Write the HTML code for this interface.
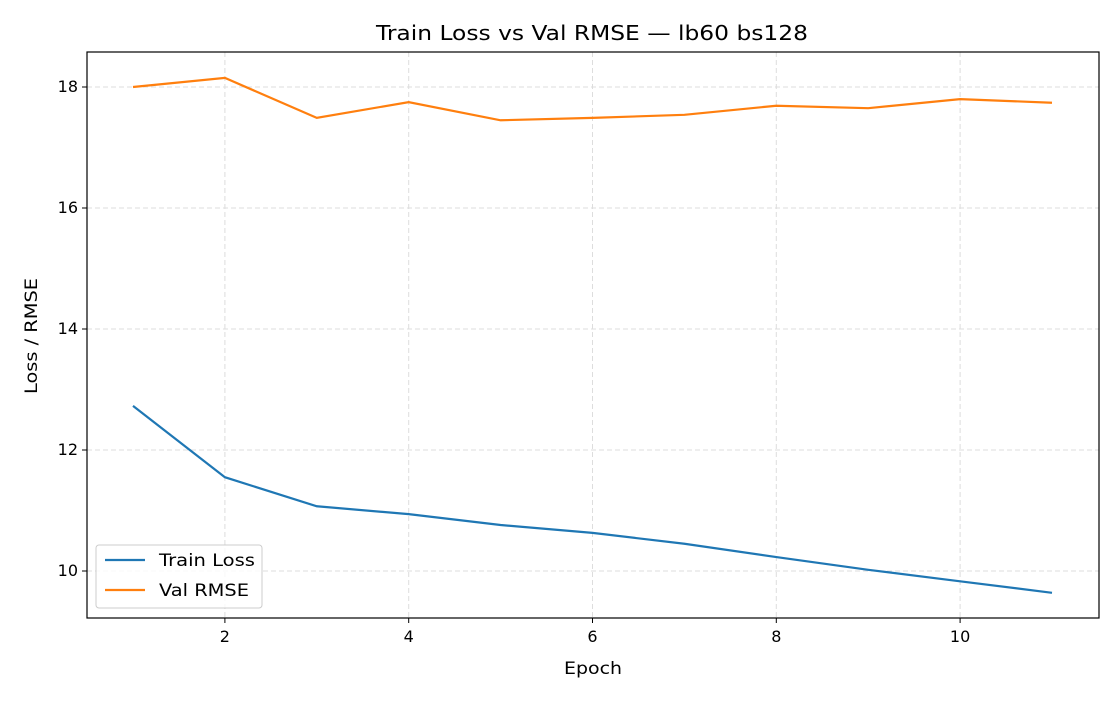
<!DOCTYPE html>
<html><head><meta charset="utf-8"><style>
body{margin:0;background:#fff;font-family:"Liberation Sans","DejaVu Sans",sans-serif;}
svg text{font-family:"DejaVu Sans","Liberation Sans",sans-serif;fill:#000;}
</style></head><body>
<svg id="chart" width="1120" height="700" xmlns="http://www.w3.org/2000/svg">
<rect width="1120" height="700" fill="#fff"/>
<g id="grid"></g>
<g id="series"></g>
<rect x="87" y="52" width="1012" height="566" fill="none" stroke="#000" stroke-width="1.2"/>
<g id="ticks"></g>
<text x="376" y="40" font-size="20" textLength="432" lengthAdjust="spacingAndGlyphs">Train Loss vs Val RMSE — lb60 bs128</text>
<text x="564" y="674" font-size="17" textLength="58" lengthAdjust="spacingAndGlyphs">Epoch</text>
<text transform="translate(37,394) rotate(-90)" font-size="17" textLength="116" lengthAdjust="spacingAndGlyphs">Loss / RMSE</text>
<g>
<rect x="96" y="545" width="166" height="63" rx="3" fill="#fff" fill-opacity="0.8" stroke="#ccc"/>
<line x1="105" y1="560" x2="145" y2="560" stroke="#1f77b4" stroke-width="2.2"/>
<text x="159" y="566" font-size="17" textLength="96" lengthAdjust="spacingAndGlyphs">Train Loss</text>
<line x1="105" y1="590" x2="145" y2="590" stroke="#ff7f0e" stroke-width="2.2"/>
<text x="159" y="596" font-size="17" textLength="90" lengthAdjust="spacingAndGlyphs">Val RMSE</text>
</g>
</svg>
<script>
const epochs=[1,2,3,4,5,6,7,8,9,10,11];
const trainLoss=[12.73,11.55,11.07,10.94,10.76,10.63,10.45,10.23,10.02,9.83,9.64];
const valRmse=[18.0,18.15,17.49,17.75,17.45,17.49,17.54,17.69,17.65,17.80,17.74];
const xTicks=[2,4,6,8,10];
const yTicks=[10,12,14,16,18];
const ns="http://www.w3.org/2000/svg";
const X=v=>133+(v-1)*91.9;
const Y=v=>571-(v-10)*60.5;
const grid=document.getElementById('grid'),ticks=document.getElementById('ticks'),series=document.getElementById('series');
function mk(t,a,p){const e=document.createElementNS(ns,t);for(const k in a)e.setAttribute(k,a[k]);p.appendChild(e);return e;}
xTicks.forEach(v=>{
 const g=mk('line',{x1:X(v),x2:X(v),y1:52,y2:618,stroke:'#ddd','stroke-dasharray':'5,3'},grid);
 
 
 const t=mk('line',{x1:X(v),x2:X(v),y1:618,y2:623,stroke:'#000'},ticks);
 
 
 const l=mk('text',{x:X(v),y:642,'text-anchor':'middle','font-size':'16'},ticks);l.textContent=v;
 
 
});
yTicks.forEach(v=>{
 const g=mk('line',{x1:87,x2:1099,y1:Y(v),y2:Y(v),stroke:'#ddd','stroke-dasharray':'5,3'},grid);
 
 
 const t=mk('line',{x1:82,x2:87,y1:Y(v),y2:Y(v),stroke:'#000'},ticks);
 
 
 const l=mk('text',{x:78,y:Y(v)+5,'text-anchor':'end','font-size':'16'},ticks);l.textContent=v;
 
 
});
function line(vals,color,name){
 const p=mk('polyline',{points:vals.map((v,i)=>X(epochs[i])+','+Y(v)).join(' '),fill:'none',stroke:color,'stroke-width':2.2},series);
 
 
}
line(trainLoss,'#1f77b4','train-loss-line');
line(valRmse,'#ff7f0e','val-rmse-line');
</script>
</body></html>
